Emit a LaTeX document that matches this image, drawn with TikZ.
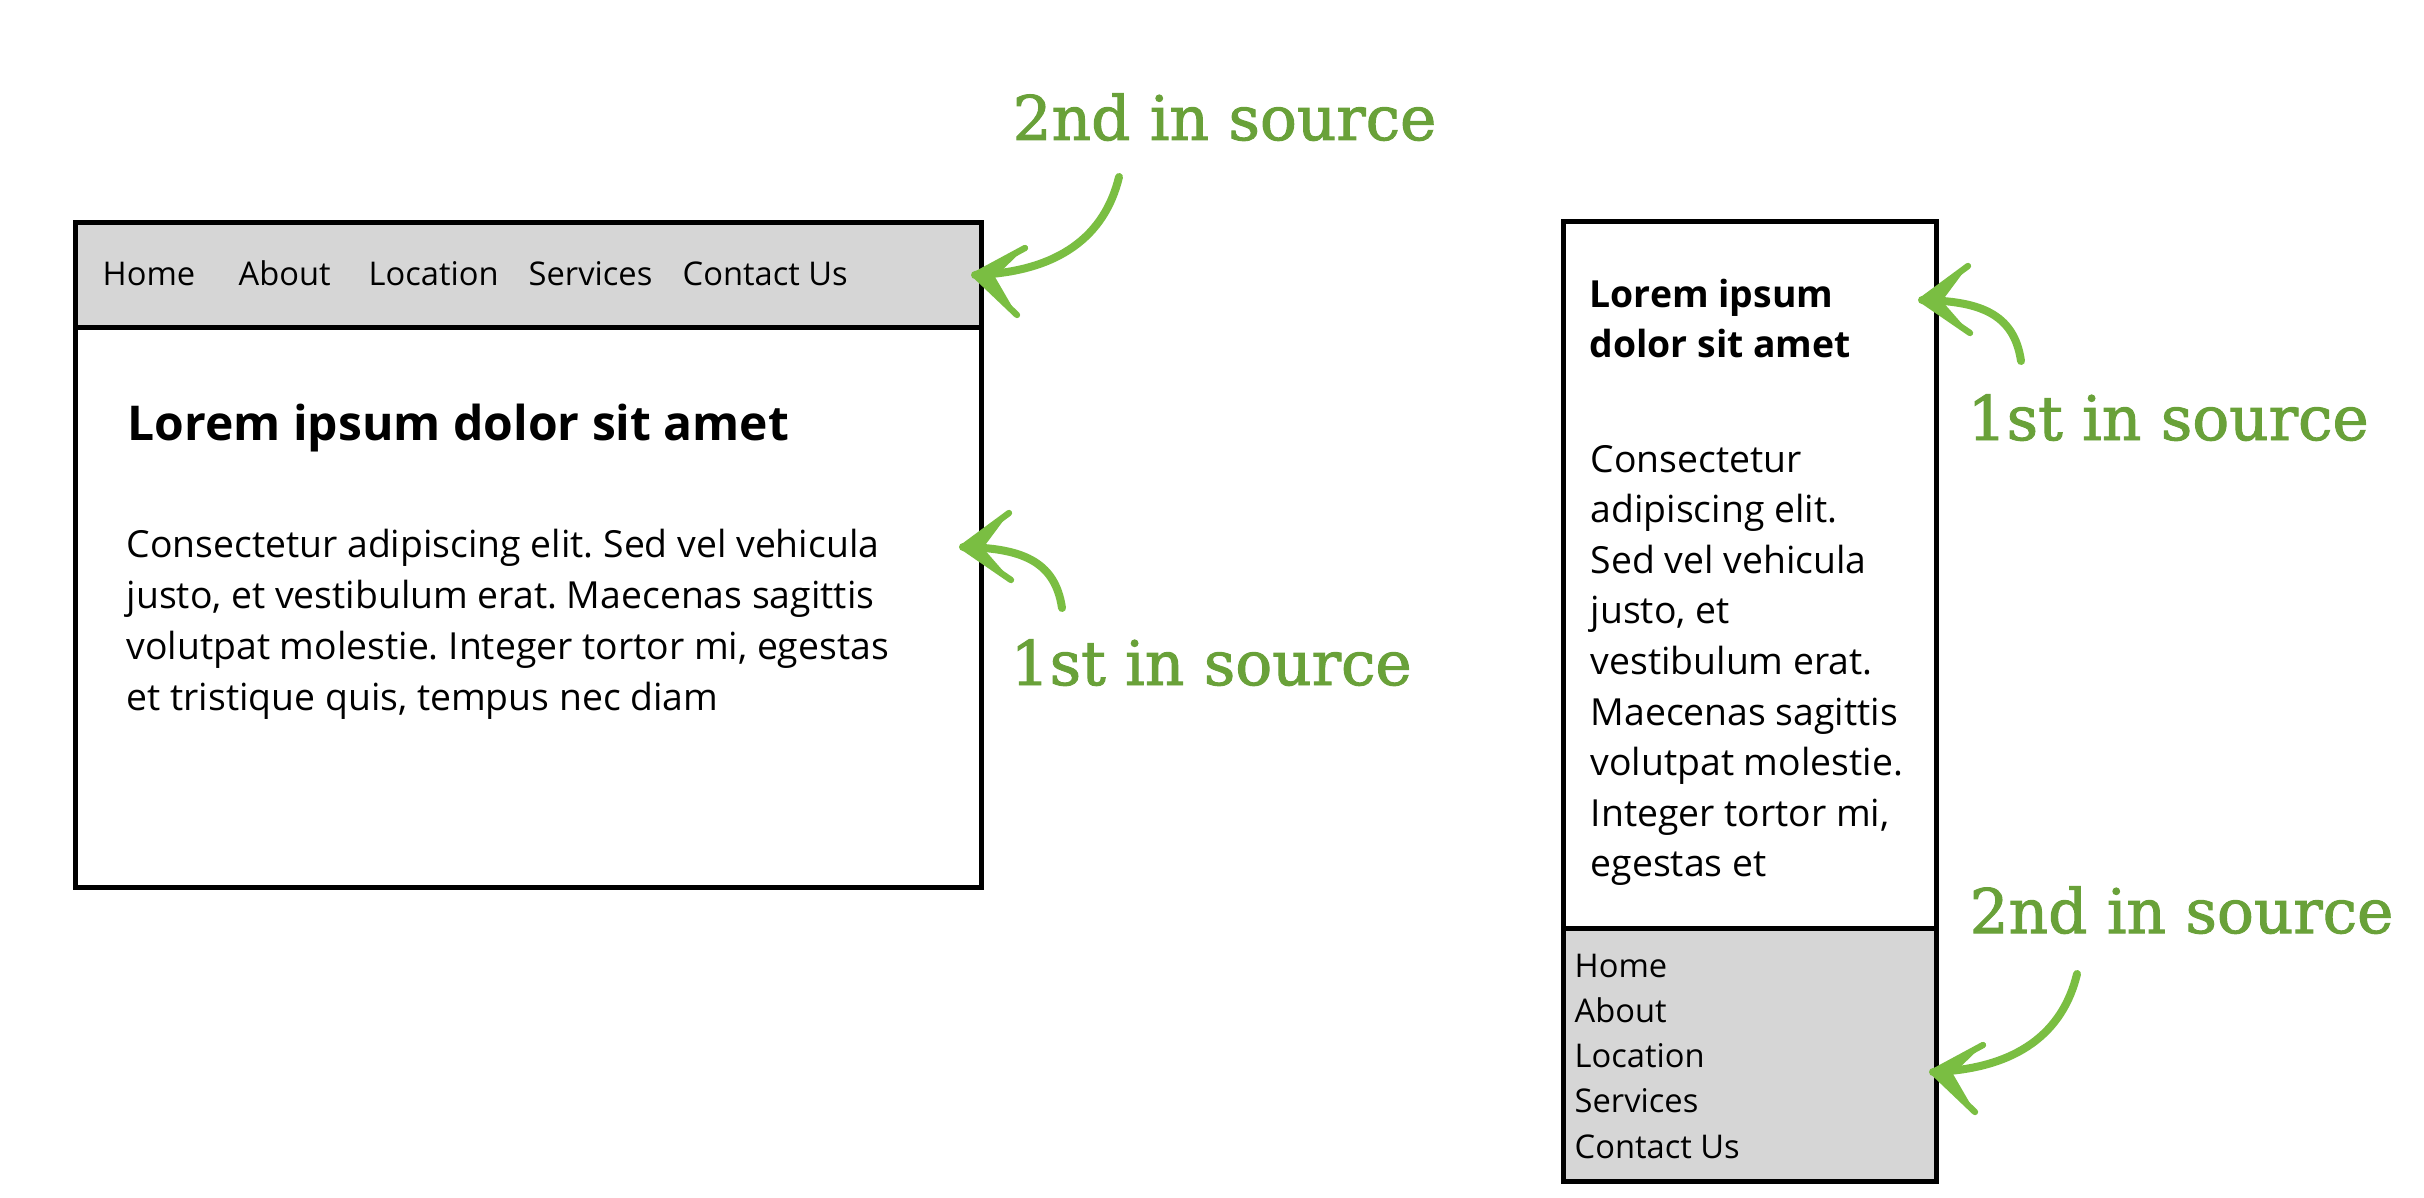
\documentclass[tikz,border=0pt]{standalone}
\usepackage{fontspec}
\setmainfont{Open Sans}
\newfontfamily\slabfont[FakeBold=1.6]{DejaVu Serif}
\frenchspacing
\definecolor{navgray}{RGB}{214,214,214}
\definecolor{textgreen}{RGB}{105,161,57}
\definecolor{arrowgreen}{RGB}{122,190,66}
\newcommand\arrowdown[2]{%
  \draw[arrowline] (#1) .. controls +(-14,58) and +(85,-3) .. (#2);
  \fill[arrowgreen] (#2) -- +(50,-27) -- +(20,2) -- +(42,40) -- cycle;
  \draw[barbline] (#2) -- +(50,-27);
  \draw[barbline] (#2) -- +(42,40);
}
\newcommand\arrowup[2]{%
  \draw[arrowline] (#1) .. controls +(-7,-48) and +(57,1) .. (#2);
  \fill[arrowgreen] (#2) -- +(46,-34) -- +(20,1) -- +(48,33) -- cycle;
  \draw[barbline] (#2) -- +(46,-34);
  \draw[barbline] (#2) -- +(48,33);
}
\begin{document}
\begin{tikzpicture}[x=0.3pt,y=-0.3pt,
  boxline/.style={line width=1.5pt, draw=black},
  navfill/.style={fill=navgray},
  navtext/.style={font=\fontsize{9.8}{12}\selectfont, anchor=base west, inner sep=0pt},
  bodytext/.style={font=\fontsize{11.2}{14}\selectfont, anchor=base west, inner sep=0pt},
  bigtitle/.style={font=\fontsize{14.4}{16}\selectfont\bfseries, anchor=base west, inner sep=0pt},
  smalltitle/.style={font=\fontsize{11.2}{14}\selectfont\bfseries, anchor=base west, inner sep=0pt},
  greenlabel/.style={font=\slabfont\fontsize{18.4}{22}\selectfont, text=textgreen, anchor=base west, inner sep=0pt},
  arrowline/.style={draw=arrowgreen, line width=2.4pt, line cap=round},
  barbline/.style={draw=arrowgreen, line width=1.9pt, line cap=round},
]
\useasboundingbox (0,0) rectangle (2424,1198);
\fill[white] (0,0) rectangle (2424,1198);

% ---- left (wide) layout ----
\fill[navfill] (75.5,222.5) rectangle (981,327);
\draw[boxline] (75.5,222.5) rectangle (981,887);
\draw[boxline] (75.5,327) -- (981,327);

\node[navtext] (ln1) at (102,286) {Home};
\node[navtext] (ln2) at (238,286) {About};
\node[navtext] (ln3) at (368,286) {Location};
\node[navtext] (ln4) at (528,286) {Services};
\node[navtext] (ln5) at (682,286) {Contact Us};

\node[bigtitle] (lhead) at (127,440) {Lorem ipsum dolor sit amet};
\foreach \t [count=\i from 0] in {Consectetur adipiscing elit. Sed vel vehicula,
  {justo, et vestibulum erat. Maecenas sagittis},
  {volutpat molestie. Integer tortor mi, egestas},
  {et tristique quis, tempus nec diam}}
  \node[bodytext] (lb\i) at (126,557+51*\i) {\t};

% ---- right (narrow) layout ----
\fill[navfill] (1563,928) rectangle (1936,1181);
\draw[boxline] (1563,222) rectangle (1936,1181);
\draw[boxline] (1563,928) -- (1936,928);

\node[smalltitle] (rh1) at (1589,307) {Lorem ipsum};
\node[smalltitle] (rh2) at (1589,357) {dolor sit amet};
\foreach \t [count=\i from 0] in {Consectetur, adipiscing elit., Sed vel vehicula,
  {justo, et}, vestibulum erat., Maecenas sagittis, volutpat molestie.,
  {Integer tortor mi,}, egestas et}
  \node[bodytext] (rb\i) at (1590,472+50.6*\i) {\t};

\foreach \t [count=\i from 0] in {Home, About, Location, Services, Contact Us}
  \node[navtext] (rn\i) at (1574,977+45.25*\i) {\t};

% ---- green labels ----
\node[greenlabel] (lab2a) at (1012,140) {2nd in source};
\node[greenlabel] (lab1a) at (1010,685) {1st in source};
\node[greenlabel] (lab1b) at (1967,440) {1st in source};
\node[greenlabel] (lab2b) at (1969,933) {2nd in source};

% ---- arrows ----
\coordinate (ta) at (1119,177);  \coordinate (ha) at (975,275);
\coordinate (tb) at (1062,608);  \coordinate (hb) at (963,547);
\coordinate (tc) at (2021,361);  \coordinate (hc) at (1922,300);
\coordinate (td) at (2077,974);  \coordinate (hd) at (1933,1072);
\arrowdown{ta}{ha}
\arrowup{tb}{hb}
\arrowup{tc}{hc}
\arrowdown{td}{hd}
\end{tikzpicture}
\end{document}
